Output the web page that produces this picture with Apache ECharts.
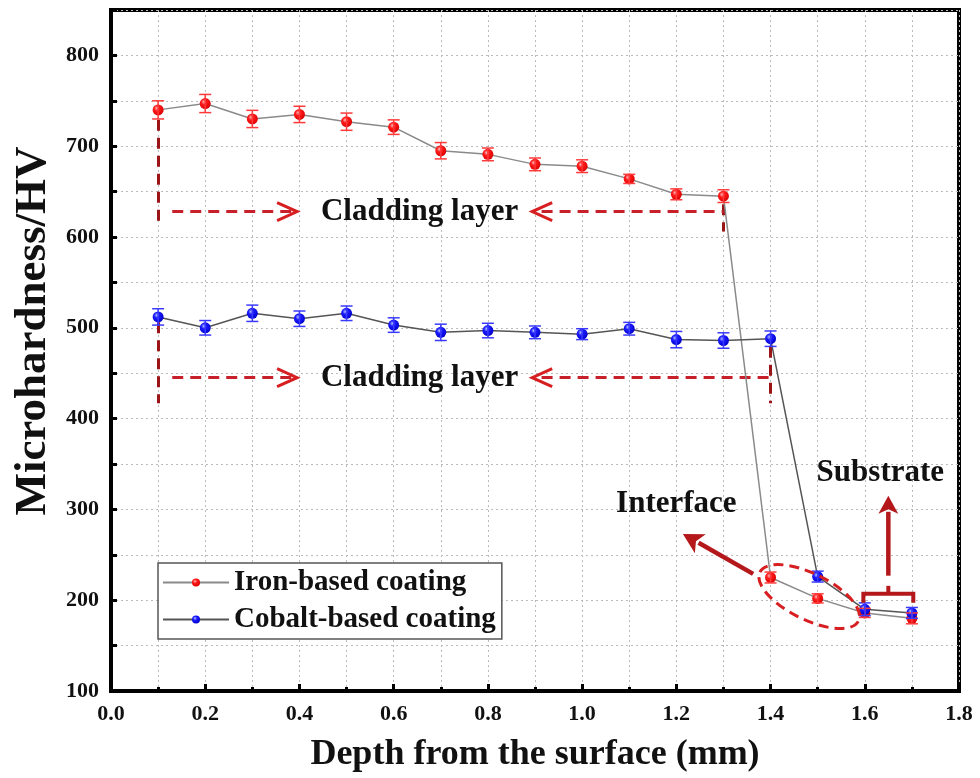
<!DOCTYPE html>
<html lang="en">
<head>
<meta charset="utf-8">
<title>Microhardness profile</title>
<script src="https://cdn.jsdelivr.net/npm/echarts@6/dist/echarts.min.js"></script>
<style>
  html, body {margin: 0; padding: 0; background: #fff;}
  #chart {width: 980px; height: 778px;}
</style>
</head>
<body>
<div id="chart"></div>
<script>
// depth (mm) and microhardness (HV)
var depth = [0.1, 0.2, 0.3, 0.4, 0.5, 0.6, 0.7, 0.8, 0.9, 1.0, 1.1, 1.2, 1.3, 1.4, 1.5, 1.6, 1.7];
var ironHV = [740, 747, 730, 735, 727, 721, 695, 691, 680, 678, 664, 647, 645, 225, 202, 186, 180];
var ironErr = [10, 10, 9.5, 9, 9.5, 8, 9, 7, 7, 7, 5, 6, 7, 6, 5, 5, 6];
var cobaltHV = [512, 500, 516, 510, 516, 503, 495, 497, 495, 493, 499, 487, 486, 488, 226, 190, 186];
var cobaltErr = [9, 8, 9, 8.5, 8, 8, 9, 8, 7, 6, 7, 9, 8.5, 8.5, 6, 7, 6];
var seriesNames = ['Iron-based coating', 'Cobalt-based coating'];
var yTitle = 'Microhardness/HV';
var xTitle = 'Depth from the surface (mm)';

// annotation anchors in data units [depth, HV]
var ironBracket = [[0.1, 729], [0.1, 611], [1.3, 636], [1.3, 606]];
var ironArrowY = 628;
var cobaltBracket = [[0.1, 506], [0.1, 417], [1.4, 479], [1.4, 417]];
var cobaltArrowY = 445;
var claddingSpan = [0.13, 0.395, 0.894, 1.3]; // dash start, right tip, left tip, dash end
var claddingTextX = 0.655;
var interfaceText = [1.2, 306];
var interfaceArrow = [[1.363, 229], [1.214, 273]];
var interfaceEllipse = [1.482, 204];
var substrateText = [1.633, 340];
var substrateArrow = [[1.65, 227], [1.65, 315]];
var substrateBracket = [1.597, 1.703, 207];

var serif = "'Liberation Serif', 'Times New Roman', serif";

function sphere(c1, c2, c3) {
  return {type: 'radial', x: 0.38, y: 0.35, r: 0.7,
    colorStops: [{offset: 0, color: c1}, {offset: 0.35, color: c2}, {offset: 1, color: c3}]};
}

function errData(vals, errs) {
  return depth.map(function (d, i) { return [d, vals[i] - errs[i], vals[i] + errs[i]]; });
}

function errRender(color) {
  return function (params, api) {
    var x = api.value(0);
    var lo = api.coord([x, api.value(1)]);
    var hi = api.coord([x, api.value(2)]);
    var w = 6;
    var st = {stroke: color, lineWidth: 1.5};
    return {type: 'group', children: [
      {type: 'line', shape: {x1: hi[0], y1: hi[1], x2: lo[0], y2: lo[1]}, style: st},
      {type: 'line', shape: {x1: hi[0] - w, y1: hi[1], x2: hi[0] + w, y2: hi[1]}, style: st},
      {type: 'line', shape: {x1: lo[0] - w, y1: lo[1], x2: lo[0] + w, y2: lo[1]}, style: st}
    ]};
  };
}

function vDash(bracket) {
  return [{coords: [bracket[0], bracket[1]]}, {coords: [bracket[2], bracket[3]]}];
}
function hDash(bracket, y) {
  return [
    {coords: [[claddingSpan[0], y], [claddingSpan[1] - 0.01, y]]},
    {coords: [[claddingSpan[2] + 0.02, y], [bracket[2][0], y]]}
  ];
}

var chart = echarts.init(document.getElementById('chart'));
var axisFont = {fontFamily: serif, fontWeight: 'bold', fontSize: 22, color: '#111'};

chart.setOption({
  animation: false,
  backgroundColor: '#fff',
  grid: {left: 111, right: 21, top: 10, bottom: 85, show: true,
    borderColor: '#000', borderWidth: 4, backgroundColor: 'transparent'},
  legend: {
    data: seriesNames,
    orient: 'vertical', left: 158, top: 563,
    padding: [5, 6, 5, 4], itemGap: 8,
    itemWidth: 66, itemHeight: 10,
    backgroundColor: '#fff', borderColor: '#555', borderWidth: 1.5,
    textStyle: {fontFamily: serif, fontWeight: 'bold', fontSize: 29, color: '#111'}
  },
  xAxis: {
    type: 'value', min: 0, max: 1.8, interval: 0.2,
    name: xTitle, nameLocation: 'middle', nameGap: 46,
    nameTextStyle: {fontFamily: serif, fontWeight: 'bold', fontSize: 36, color: '#111'},
    axisLine: {show: true, lineStyle: {color: '#000', width: 4}},
    axisTick: {show: true, inside: true, length: 7, lineStyle: {color: '#000', width: 3}},
    minorTick: {show: true, splitNumber: 2, length: 4, lineStyle: {color: '#000', width: 3}},
    axisLabel: Object.assign({margin: 12, formatter: function (v) { return v.toFixed(1); }}, axisFont),
    splitLine: {show: true, lineStyle: {color: '#bbb', type: [2, 3], width: 1}},
    minorSplitLine: {show: true, lineStyle: {color: '#bbb', type: [2, 3], width: 1}}
  },
  yAxis: {
    type: 'value', min: 100, max: 850, interval: 50,
    axisLine: {show: true, lineStyle: {color: '#000', width: 4}},
    axisTick: {show: true, inside: true, length: 6, lineStyle: {color: '#000', width: 3}},
    axisLabel: Object.assign({margin: 12, formatter: function (v) {
      return (v % 100 === 0 && v <= 800) ? String(v) : '';
    }}, axisFont),
    splitLine: {show: true, lineStyle: {color: '#bbb', type: [2, 3], width: 1}}
  },
  series: [
    {
      name: seriesNames[0], type: 'line', z: 3,
      data: depth.map(function (d, i) { return [d, ironHV[i]]; }),
      symbol: 'circle', symbolSize: 11,
      lineStyle: {color: '#8a8a8a', width: 1.5},
      itemStyle: {color: sphere('#ffc0c0', '#ff1a1a', '#d80000')}
    },
    {
      name: seriesNames[1], type: 'line', z: 3,
      data: depth.map(function (d, i) { return [d, cobaltHV[i]]; }),
      symbol: 'circle', symbolSize: 11,
      lineStyle: {color: '#555', width: 1.5},
      itemStyle: {color: sphere('#b8c8ff', '#1a1aff', '#0000c8')}
    },
    {type: 'custom', z: 4, silent: true, renderItem: errRender('#ff3a3a'),
      data: errData(ironHV, ironErr), encode: {x: 0, y: [1, 2]}},
    {type: 'custom', z: 4, silent: true, renderItem: errRender('#3a3aff'),
      data: errData(cobaltHV, cobaltErr), encode: {x: 0, y: [1, 2]}},
    {type: 'lines', coordinateSystem: 'cartesian2d', z: 2, silent: true,
      lineStyle: {color: '#9a1418', width: 3, type: [11, 7], opacity: 1},
      data: vDash(ironBracket).concat(vDash(cobaltBracket))},
    {type: 'lines', coordinateSystem: 'cartesian2d', z: 2, silent: true,
      lineStyle: {color: '#c8202a', width: 3, type: [11, 7], opacity: 1},
      data: hDash(ironBracket, ironArrowY).concat(hDash(cobaltBracket, cobaltArrowY))}
  ]
});

function px(p) { return chart.convertToPixel({gridIndex: 0}, p); }

function chevron(tip, dir) {
  return {type: 'polyline', z: 10, silent: true,
    shape: {points: [[tip[0] - dir * 20, tip[1] - 9], tip, [tip[0] - dir * 20, tip[1] + 9]]},
    style: {stroke: '#d71f22', lineWidth: 3, fill: null}};
}

function label(pos, txt, size) {
  return {type: 'text', z: 10, silent: true, x: pos[0], y: pos[1],
    style: {text: txt, fontFamily: serif, fontWeight: 'bold', fontSize: size || 31, fill: '#111',
      align: 'center', verticalAlign: 'middle'}};
}

function arrow(from, to, color, width, head) {
  var dx = to[0] - from[0], dy = to[1] - from[1];
  var len = Math.sqrt(dx * dx + dy * dy), ux = dx / len, uy = dy / len;
  var base = [to[0] - ux * head, to[1] - uy * head];
  return [
    {type: 'line', z: 10, silent: true,
      shape: {x1: from[0], y1: from[1], x2: base[0] + ux * 2, y2: base[1] + uy * 2},
      style: {stroke: color, lineWidth: width}},
    {type: 'polygon', z: 10, silent: true,
      shape: {points: [to, [base[0] - uy * head * 0.55, base[1] + ux * head * 0.55],
        [base[0] + ux * head * 0.25, base[1] + uy * head * 0.25],
        [base[0] + uy * head * 0.55, base[1] - ux * head * 0.55]]},
      style: {fill: color}}
  ];
}

var g = [];
[ironArrowY, cobaltArrowY].forEach(function (y) {
  g.push(chevron(px([claddingSpan[1], y]), 1));
  g.push(chevron(px([claddingSpan[2], y]), -1));
  g.push(label(px([claddingTextX, y]), 'Cladding layer'));
});
g.push(label(px(interfaceText), 'Interface'));
g.push(label(px(substrateText), 'Substrate'));
g = g.concat(arrow(px(interfaceArrow[0]), px(interfaceArrow[1]), '#b4181b', 4.5, 20));
g = g.concat(arrow(px(substrateArrow[0]), px(substrateArrow[1]), '#b4181b', 4.5, 18));

var ec = px(interfaceEllipse);
g.push({type: 'ellipse', z: 10, silent: true, x: ec[0], y: ec[1], rotation: -0.46,
  shape: {cx: 0, cy: 0, rx: 55, ry: 23},
  style: {stroke: '#d71f22', lineWidth: 3, lineDash: [10, 6], fill: null}});

var bl = px([substrateBracket[0], substrateBracket[2]]);
var br = px([substrateBracket[1], substrateBracket[2]]);
var bm = (bl[0] + br[0]) / 2;
g.push({type: 'polyline', z: 10, silent: true,
  shape: {points: [[bl[0], bl[1] + 9], bl, br, [br[0], br[1] + 9]]},
  style: {stroke: '#b4181b', lineWidth: 4, fill: null}});
g.push({type: 'line', z: 10, silent: true,
  shape: {x1: bm, y1: bl[1], x2: bm, y2: bl[1] - 8},
  style: {stroke: '#b4181b', lineWidth: 4}});

// y axis title, placed like the original (slightly above the plot centre)
g.push({type: 'text', z: 10, silent: true, x: 33, y: 331, rotation: Math.PI / 2,
  style: {text: yTitle, fontFamily: serif, fontWeight: 'bold', fontSize: 45, fill: '#111',
    align: 'center', verticalAlign: 'middle'}});

chart.setOption({graphic: g});
</script>
</body>
</html>
